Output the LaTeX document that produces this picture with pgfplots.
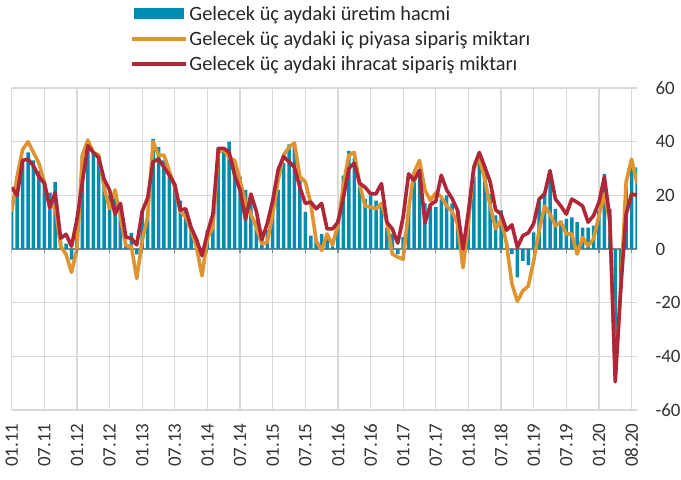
\documentclass[border=0pt]{standalone}
\usepackage{pgfplots}
\usepackage{pgfplotstable}
\pgfplotsset{compat=1.18}
\usepackage{fontspec}
\setmainfont{Carlito}
\definecolor{barcol}{RGB}{0,139,176}
\definecolor{orgcol}{RGB}{222,148,48}
\definecolor{redcol}{RGB}{174,38,55}
\definecolor{gridcol}{RGB}{217,217,217}
\definecolor{zerocol}{RGB}{134,134,134}
\pgfplotstableread{
i u d e
0 14 14 23
1 24 27 20
2 32 37 33
3 36 40 33.5
4 33 36 31
5 29 32 27
6 25 25 24.5
7 21 15.5 15.5
8 25 16 21
9 3 1 4
10 2 -2 5.5
11 -4 -8.7 1
12 5 0 11
13 35 35 25
14 40 40.6 38.5
15 36 36 36
16 35 35 34
17 26 23 26
18 20 15 22
19 19 22 13
20 17 12 17
21 2 1.2 4.4
22 6 1 4
23 -2 -11 1.5
24 14 3 14
25 13 12 19
26 41 40 32.5
27 38 35 33.5
28 33 35 30.5
29 29 29 27.5
30 24 23 24
31 18 14 14.5
32 14 12 15
33 7 7 8
34 3 0.6 3.5
35 -2 -10 -2.5
36 7 4 6
37 9 8 13
38 38 36 37.5
39 37 37 37.5
40 40 34 36
41 32 33 27.5
42 27 25.6 22
43 22 17 11
44 18 13 20.5
45 10.6 8 14
46 4.4 1.9 3.5
47 7 2.5 9.5
48 13.8 13 18
49 22 25.6 29.5
50 32 35 34.5
51 39 38 32.5
52 38 39.5 30.5
53 25.6 27 23
54 13.8 25 17
55 5 17 17.5
56 4 3 15
57 5.6 -0.5 17
58 5.6 5.6 7.5
59 1 1.5 7.5
60 11 9 10
61 27.3 24 19
62 36.6 35 30
63 34 36 32
64 23 24 24.5
65 18.6 16 23
66 20 15.6 20.6
67 18 15 20.6
68 16 17 24.4
69 8 10 10
70 5.6 -1.9 7.5
71 -1.9 -3 2.2
72 4.4 -3.8 12
73 15.5 15 28
74 25 28.5 25.6
75 26.7 33 29.4
76 17 22 9.7
77 16 18 16.5
78 15.6 21 17.8
79 18.5 19.4 27.5
80 20 16 22
81 17 14 18.8
82 14.4 9.4 14.4
83 4.4 -7 0
84 13 10 14
85 27 30 30.6
86 33.5 34 36
87 28 26 30.6
88 20.5 16 25
89 12.5 7.5 14.6
90 14.4 11 13
91 2.5 2 7
92 -1.9 -13 9
93 -10.6 -19.5 0.6
94 -4.4 -15.6 5
95 -6 -13.8 6
96 6.2 -4.4 9.5
97 18 6.8 18.6
98 20.5 16 20.5
99 26 13 29.2
100 15 8.7 18.6
101 10.6 10 16
102 11.2 5.6 13
103 11.8 5.6 18.6
104 10 -1.9 17.4
105 8 4.3 16
106 8 1.2 10
107 8.7 3.7 12.4
108 14.3 12.4 17.4
109 28 20.5 26.8
110 15 10 11.5
111 -40 -48 -49.5
112 -15 -15 -15
113 23 25 13
114 30.4 33.5 20.5
115 30.4 24.5 20
}\datatable
\begin{document}
\begin{tikzpicture}
\begin{axis}[
  scale only axis, width=625.3bp, height=322bp,
  at={(0,0)}, anchor=south west,
  xmin=0, xmax=115, ymin=-60, ymax=60,
  axis line style={draw=none},
  tick style={draw=none},
  major tick length=0pt,
  ytick={-60,-40,-20,0,20,40,60},
  yticklabels={-60,-40,-20,0,20,40,60},
  yticklabel pos=right,
  yticklabel style={anchor=west, xshift=15bp},
  xtick={0,6,...,114},
  xticklabels={01.11,07.11,01.12,07.12,01.13,07.13,01.14,07.14,01.15,07.15,01.16,07.16,01.17,07.17,01.18,07.18,01.19,07.19,01.20,08.20},
  xticklabel style={rotate=90, anchor=east, xshift=-10bp},
  every tick label/.append style={font=\fontsize{19}{22}\selectfont, text=black!80},
  grid=major,
  grid style={color=gridcol, line width=1.3bp},
  extra y ticks={0},
  extra y tick labels={},
  extra y tick style={grid style={color=zerocol, line width=1.3bp}},
  legend style={at={(0.189,1)}, anchor=south west, yshift=14bp, draw=none, fill=none,
    font=\fontsize{20.4}{23}\selectfont, text=black!85, legend cell align=left, row sep=5.5bp,
    inner sep=0pt},
  legend columns=1,
]
\addplot[ybar, bar width=3.5bp, fill=barcol, draw=none,
  legend image code/.code={\fill[barcol] (0bp,-5bp) rectangle (50bp,6bp);}]
  table[x=i, y=u] {\datatable};
\addlegendentry{Gelecek üç aydaki üretim hacmi}
\addplot[color=orgcol, line width=3.6bp, line join=round, mark=none,
  legend image code/.code={\draw[orgcol, line width=3.4bp] (-2bp,0bp) -- (52bp,0bp);}]
  table[x=i, y=d] {\datatable};
\addlegendentry{Gelecek üç aydaki iç piyasa sipariş miktarı}
\addplot[color=redcol, line width=3.6bp, line join=round, mark=none,
  legend image code/.code={\draw[redcol, line width=3.4bp] (-2bp,0bp) -- (52bp,0bp);}]
  table[x=i, y=e] {\datatable};
\addlegendentry{Gelecek üç aydaki ihracat sipariş miktarı}
\pgfplotsinvokeforeach{0,6,...,114}{
  \draw[zerocol, line width=1.2bp] (axis cs:#1,0) -- ++(0bp,-4bp);
}
\end{axis}
\pgfresetboundingbox
\path[use as bounding box] (-11.7bp,-70bp) rectangle (669.3bp,410bp);
\end{tikzpicture}
\end{document}
